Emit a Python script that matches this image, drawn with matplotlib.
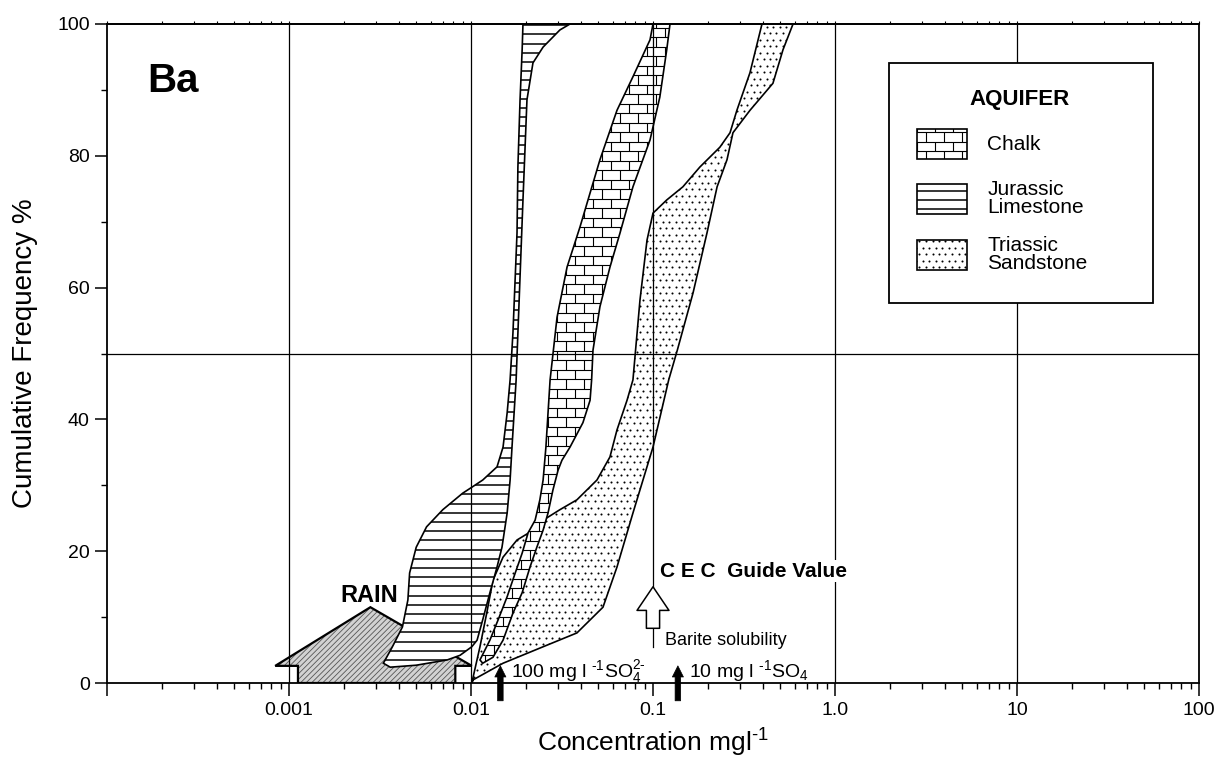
import matplotlib
matplotlib.use('Agg')
import matplotlib.pyplot as plt
import numpy as np
from matplotlib.patches import Polygon, Rectangle
from matplotlib.collections import LineCollection
from matplotlib.ticker import FixedLocator, FixedFormatter, NullFormatter, LogLocator

plt.rcParams['font.family'] = ['Liberation Sans', 'DejaVu Sans']
plt.rcParams['mathtext.fontset'] = 'custom'
plt.rcParams['mathtext.rm'] = 'Liberation Sans'
plt.rcParams['mathtext.it'] = 'Liberation Sans:italic'
plt.rcParams['mathtext.bf'] = 'Liberation Sans:bold'
plt.rcParams['hatch.linewidth'] = 0.6

# Ba envelopes: concentration (mg/l) vs cumulative frequency (%)
# lower edge listed bottom -> top, upper edge listed top -> bottom
chalk_lo_x = [0.0112, 0.0127, 0.0141, 0.0158, 0.0175, 0.0191, 0.0206, 0.0225, 0.0239, 0.0249,
              0.0258, 0.0265, 0.0272, 0.0297, 0.0337, 0.0397, 0.0511, 0.0634, 0.0776, 0.0963, 0.100]
chalk_lo_y = [3.5, 6.5, 9.6, 13.1, 16.7, 19.7, 22.8, 24.7, 27.8, 30.8,
              35.8, 41.0, 46.0, 55.5, 63.1, 69.2, 79.4, 86.9, 92.0, 97.6, 100]
chalk_hi_x = [0.124, 0.119, 0.109, 0.0963, 0.0776, 0.0659, 0.0580, 0.0511, 0.0468, 0.0460,
              0.0451, 0.0412, 0.0350, 0.0316, 0.0301, 0.0282, 0.0265, 0.0249, 0.0230, 0.0211,
              0.0191, 0.0170, 0.0150, 0.0132, 0.0116]
chalk_hi_y = [100, 96.1, 88.9, 82.4, 75.3, 68.3, 63.1, 57.1, 50.5, 46.0,
              42.9, 39.5, 35.8, 33.8, 32.3, 29.3, 25.8, 23.2, 20.6, 17.6,
              13.7, 10.6, 6.5, 3.9, 3.0]

jur_lo_x = [0.0033, 0.0037, 0.0042, 0.0045, 0.0046, 0.0050, 0.0057, 0.0070, 0.0090, 0.0101,
            0.0116, 0.0139, 0.0150, 0.0158, 0.0164, 0.0170, 0.0179, 0.0181, 0.0186, 0.0191, 0.0193]
jur_lo_y = [3.0, 5.5, 8.5, 12.6, 16.7, 20.6, 23.7, 26.3, 28.8, 29.7,
            30.8, 32.8, 35.8, 41.0, 46.0, 53.1, 68.3, 78.3, 88.5, 96.1, 100]
jur_hi_x = [0.0350, 0.0308, 0.0249, 0.0219, 0.0203, 0.0193, 0.0181, 0.0177, 0.0168, 0.0164,
            0.0158, 0.0148, 0.0139, 0.0127, 0.0116, 0.0108, 0.0101, 0.0087, 0.0074, 0.0050, 0.0036]
jur_hi_y = [100, 99.1, 96.5, 94.1, 88.5, 73.3, 53.1, 46.0, 35.8, 30.8,
            25.8, 20.6, 17.6, 13.7, 9.6, 6.5, 5.5, 4.2, 3.5, 2.7, 2.4]

tri_lo_x = [0.0101, 0.0112, 0.0122, 0.0132, 0.0150, 0.0179, 0.0211, 0.0249, 0.0308, 0.0382,
            0.0492, 0.0580, 0.0634, 0.0720, 0.0776, 0.0848, 0.0927, 0.100, 0.119, 0.146,
            0.181, 0.233, 0.265, 0.289, 0.341, 0.397]
tri_lo_y = [0, 5.5, 10.6, 15.6, 19.1, 21.7, 22.9, 24.7, 26.3, 27.8,
            30.8, 34.3, 38.4, 42.9, 46.0, 58.1, 67.2, 71.3, 73.3, 75.3,
            78.3, 81.3, 83.5, 86.9, 92.6, 100]
tri_hi_x = [0.588, 0.518, 0.456, 0.341, 0.275, 0.255, 0.225, 0.198, 0.166, 0.136,
            0.122, 0.100, 0.0776, 0.0634, 0.0531, 0.0382, 0.0249, 0.0150, 0.0103]
tri_hi_y = [100, 96.1, 91.0, 86.9, 83.5, 79.4, 75.3, 68.3, 59.2, 50.5,
            46.0, 35.8, 25.8, 17.6, 11.5, 7.6, 5.5, 3.0, 0.5]

# rainfall range drawn as a block arrow
rain_x = [0.00112, 0.00112, 0.00084, 0.0028, 0.0101, 0.0082, 0.0082]
rain_y = [0, 2.6, 2.6, 11.5, 2.6, 2.6, 0]

cec_guide = 0.1
barite_x = [0.0145, 0.137]
barite_labels = [r'100 mg l $^{\text{-1}}$SO$_4^{\text{2-}}$', r'10 mg l $^{\text{-1}}$SO$_4$']

decades = [1e-4, 1e-3, 1e-2, 1e-1, 1, 10, 100]
decade_labels = ['', '0.001', '0.01', '0.1', '1.0', '10', '100']
grid_x = [1e-3, 1e-2, 1, 10]
grid_y = [50]

AX_W, AX_H = 1092, 659   # axes size in pixels, used for texture spacing


def band(xlo, ylo, xhi, yhi):
    return np.column_stack([list(xlo) + list(xhi), list(ylo) + list(yhi)])


def box(x0, y0, w, h):
    return [(x0, y0), (x0 + w, y0), (x0 + w, y0 + h), (x0, y0 + h)]


def brick_texture(ax, clip, z, row=9.5, brick=18):
    h, w = row / AX_H, brick / AX_W
    segs = []
    for k in range(int(1 / h) + 2):
        y0 = k * h
        segs.append([(0, y0), (1, y0)])
        for x in np.arange((k % 2) * w / 2, 1, w):
            segs.append([(x, y0), (x, y0 + h)])
    lc = LineCollection(segs, colors='black', linewidths=0.8,
                        transform=ax.transAxes, zorder=z)
    ax.add_collection(lc, autolim=False)
    lc.set_clip_path(clip)


def line_texture(ax, clip, z, step=9.2):
    h = step / AX_H
    segs = [[(0, y), (1, y)] for y in np.arange(h / 2, 1, h)]
    lc = LineCollection(segs, colors='black', linewidths=1.1,
                        transform=ax.transAxes, zorder=z)
    ax.add_collection(lc, autolim=False)
    lc.set_clip_path(clip)


def dot_texture(ax, clip, z, step=6.5):
    sx, sy = step / AX_W, step / AX_H
    px, py = [], []
    for k, y in enumerate(np.arange(0, 1 + sy, sy)):
        xs = np.arange((k % 2) * sx / 2, 1, sx)
        px.extend(xs)
        py.extend([y] * len(xs))
    sc = ax.scatter(px, py, s=2.2, c='black', linewidths=0,
                    transform=ax.transAxes, zorder=z)
    sc.set_clip_path(clip)


def textured(ax, xy, texture, z, **kw):
    fill = Polygon(xy, closed=True, fc='white', ec='none', zorder=z, **kw)
    ax.add_patch(fill)
    texture(ax, fill, z + 0.01)
    ax.add_patch(Polygon(xy, closed=True, fill=False, ec='black', lw=1.2,
                         zorder=z + 0.02, **kw))


fig = plt.figure(figsize=(12.16, 7.57), dpi=100)
ax = fig.add_axes([107 / 1216, 74 / 757, 1092 / 1216, 659 / 757])
ax.set_xscale('log')
ax.set_xlim(1e-4, 1e2)
ax.set_ylim(0, 100)

# rain arrow
rain_xy = np.column_stack([rain_x, rain_y])
ax.add_patch(Polygon(rain_xy, closed=True, fc='#d2d2d2', ec='#555555', lw=0,
                     hatch='//////', zorder=1.5))
ax.add_patch(Polygon(rain_xy, closed=True, fill=False, ec='black', lw=1.6, zorder=1.6))

# aquifer envelopes
textured(ax, band(tri_lo_x, tri_lo_y, tri_hi_x, tri_hi_y), dot_texture, 2.0)
textured(ax, band(chalk_lo_x, chalk_lo_y, chalk_hi_x, chalk_hi_y), brick_texture, 2.5)
textured(ax, band(jur_lo_x, jur_lo_y, jur_hi_x, jur_hi_y), line_texture, 3.0)

# grid lines
for gx in grid_x:
    ax.axvline(gx, color='black', lw=0.9, zorder=4)
for gy in grid_y:
    ax.axhline(gy, color='black', lw=0.9, zorder=4)

# CEC guide value
ax.plot([cec_guide, cec_guide], [5.5, 100], color='black', lw=0.9, zorder=4)
ax.annotate('', xy=(cec_guide, 14.6), xytext=(cec_guide, 8.3),
            arrowprops=dict(arrowstyle='simple,head_length=1.7,head_width=2.3,tail_width=0.95',
                            mutation_scale=10, fc='white', ec='black', lw=1.1,
                            shrinkA=0, shrinkB=0), zorder=5)
ax.text(0.1093, 16.1, 'C E C  Guide Value', fontsize=15, fontweight='bold',
        ha='left', va='baseline', zorder=6,
        bbox=dict(fc='white', ec='none', pad=1))
ax.text(0.1164, 5.8, 'Barite solubility', fontsize=13, ha='left', va='baseline', zorder=6)

# barite solubility limits
for bx, lab in zip(barite_x, barite_labels):
    ax.annotate('', xy=(bx, 2.6), xytext=(bx, -2.7), annotation_clip=False,
                arrowprops=dict(arrowstyle='simple,head_length=0.8,head_width=0.8,tail_width=0.4',
                                mutation_scale=10, fc='black', ec='black', lw=0.5,
                                shrinkA=0, shrinkB=0, clip_on=False), zorder=6)
    ax.annotate(lab, xy=(bx, 0.9), xytext=(8, 0), textcoords='offset points',
                fontsize=14, ha='left', va='baseline', zorder=6)

ax.text(0.00191, 12.3, 'RAIN', fontsize=17, fontweight='bold', ha='left', va='baseline', zorder=6)
ax.text(0.0366, 0.897, 'Ba', transform=ax.transAxes, fontsize=29, fontweight='bold',
        va='baseline', zorder=6)

# legend box
ax.add_patch(Rectangle((0.716, 0.577), 0.242, 0.364, transform=ax.transAxes,
                       fc='white', ec='black', lw=1.3, zorder=7))
ax.text(0.836, 0.877, 'AQUIFER', transform=ax.transAxes, fontsize=16, fontweight='bold',
        ha='center', va='baseline', zorder=8)
legend_rows = [('Chalk', brick_texture, 0.795),
               ('Jurassic\nLimestone', line_texture, 0.712),
               ('Triassic\nSandstone', dot_texture, 0.627)]
sw_w, sw_h = 0.0457, 0.0455
for label, tex, y0 in legend_rows:
    textured(ax, box(0.7418, y0, sw_w, sw_h), tex, 8, transform=ax.transAxes)
    ax.text(0.806, y0 + sw_h / 2, label, transform=ax.transAxes, fontsize=15,
            ha='left', va='center', linespacing=0.95, zorder=9)

# axes styling
ax.xaxis.set_major_locator(FixedLocator(decades))
ax.xaxis.set_major_formatter(FixedFormatter(decade_labels))
ax.xaxis.set_minor_locator(LogLocator(base=10, subs=np.arange(2, 10)))
ax.xaxis.set_minor_formatter(NullFormatter())
ax.yaxis.set_major_locator(FixedLocator([0, 20, 40, 60, 80, 100]))
ax.yaxis.set_minor_locator(FixedLocator([10, 30, 50, 70, 90]))
ax.tick_params(which='major', direction='out', length=9, width=1.1, labelsize=14)
ax.tick_params(axis='x', which='major', pad=4.5)
ax.tick_params(which='minor', direction='out', length=4.5, width=1.0)
for sp in ax.spines.values():
    sp.set_linewidth(1.3)
    sp.set_zorder(10)

# faint tick marks along the top edge
top = ax.secondary_xaxis('top')
top.xaxis.set_major_locator(FixedLocator(decades))
top.xaxis.set_minor_locator(LogLocator(base=10, subs=np.arange(2, 10)))
top.tick_params(which='both', direction='out', length=2, width=0.8, labeltop=False)
top.xaxis.set_major_formatter(NullFormatter())
top.xaxis.set_minor_formatter(NullFormatter())
top.spines['top'].set_linewidth(1.3)

ax.set_xlabel(r'Concentration mgl$^{\text{-1}}$', fontsize=19, labelpad=6)
ax.set_ylabel('Cumulative Frequency %', fontsize=20, labelpad=14)

fig.savefig('out.png', dpi=100)
